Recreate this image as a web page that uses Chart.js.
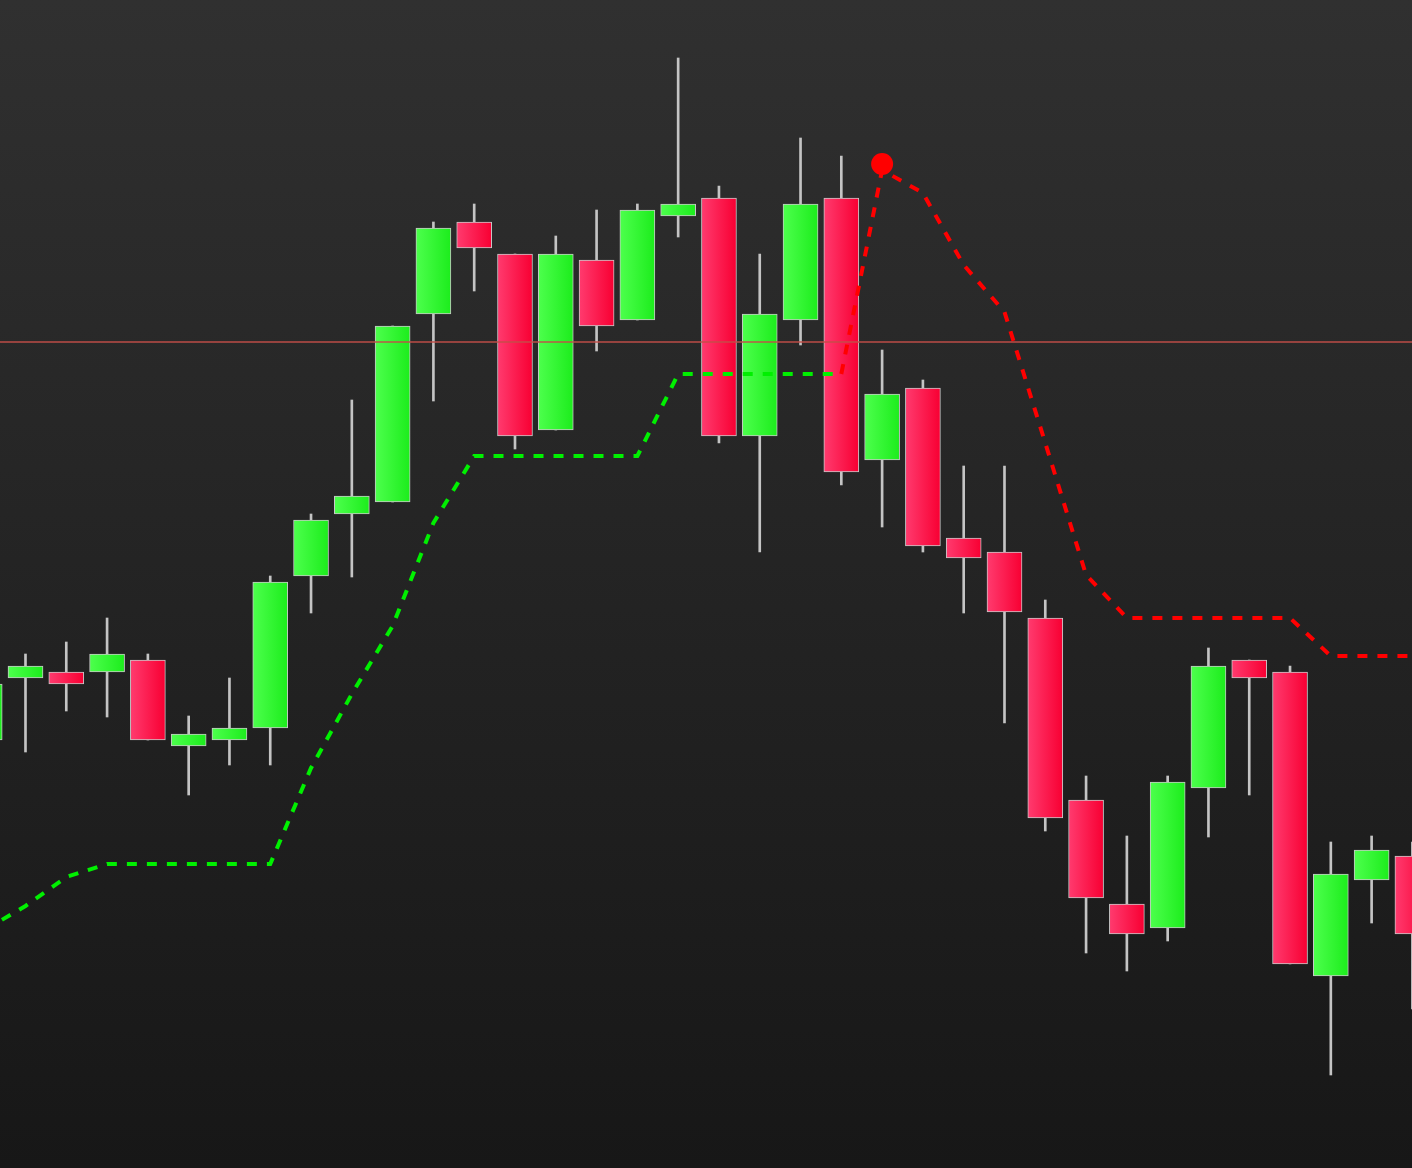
<!DOCTYPE html>
<html>
<head>
<meta charset="utf-8">
<title>Candles</title>
<script src="https://cdn.jsdelivr.net/npm/chart.js@4.4.1/dist/chart.umd.min.js"></script>
<style>
  body { margin: 0; background: #1a1a1a; }
  #wrap { width: 1412px; height: 1168px; }
</style>
</head>
<body>
<div id="wrap"><canvas id="myChart"></canvas></div>
<script>
// candle values, one per bar (index 0 and 35 are cut by the edges)
const opens  = [428, 490, 496, 496, 508, 422, 428, 440, 592, 654, 666, 854, 946, 914, 738, 908, 848, 952, 970, 732, 848, 970, 708, 780, 630, 616, 550, 368, 264, 240, 380, 508, 496, 192, 288, 312];
const highs  = [492, 514, 526, 550, 514, 452, 490, 592, 654, 768, 842, 946, 964, 914, 932, 958, 964, 1110, 982, 914, 1030, 1012, 818, 788, 702, 702, 568, 392, 332, 392, 520, 508, 502, 326, 332, 326];
const lows   = [420, 416, 457, 451, 428, 373, 403, 403, 555, 591, 666, 767, 877, 719, 738, 817, 848, 931, 725, 616, 823, 683, 641, 616, 555, 445, 337, 215, 197, 227, 331, 373, 204, 93, 245, 159];
const closes = [484, 502, 484, 514, 428, 434, 440, 586, 648, 672, 842, 940, 920, 732, 914, 842, 958, 964, 732, 854, 964, 696, 774, 622, 610, 556, 350, 270, 234, 386, 502, 490, 204, 294, 318, 234];

// trailing stop lines (null = not shown)
const upTrend = [238, 262, 291, 304, 304, 304, 304, 304, 400, 474, 542, 645, 712, 712, 712, 712, 712, 794, 794, 794, 794, 794,
  null, null, null, null, null, null, null, null, null, null, null, null, null, null];
const downTrend = [null, null, null, null, null, null, null, null, null, null, null, null, null, null, null, null, null, null, null, null, null,
  794, 998, 975, 903, 856, 725, 593, 550, 550, 550, 550, 550, 512, 512, 512];

const flipIndex = 22;
const flipValue = 1004;
const levelValue = 826;

function toPoints(arr) {
  var pts = [];
  for (var i = 0; i < arr.length; i++) {
    if (arr[i] !== null) pts.push({ x: i, y: arr[i] });
  }
  return pts;
}

var bodies = opens.map(function (o, i) {
  return { x: i, y: [Math.min(o, closes[i]), Math.max(o, closes[i])] };
});
var wicks = highs.map(function (h, i) {
  return { x: i, y: [lows[i], h] };
});

function bodyFill(ctx) {
  var up = closes[ctx.dataIndex] >= opens[ctx.dataIndex];
  var flat = up ? "#33f533" : "#ff1f55";
  if (ctx.type !== "data") return flat;
  var chart = ctx.chart;
  var xs = chart.scales.x;
  if (!xs) return flat;
  var cx = xs.getPixelForValue(ctx.dataIndex);
  if (!isFinite(cx)) return flat;
  var g = chart.ctx.createLinearGradient(cx - 17, 0, cx + 17, 0);
  if (up) {
    g.addColorStop(0, "#4cff4c");
    g.addColorStop(1, "#1ded1d");
  } else {
    g.addColorStop(0, "#ff3a6e");
    g.addColorStop(1, "#f80033");
  }
  return g;
}

const background = {
  id: "background",
  beforeDraw: function (chart) {
    var c = chart.ctx;
    var g = c.createLinearGradient(0, 0, 0, chart.height);
    g.addColorStop(0, "#303030");
    g.addColorStop(1, "#171717");
    c.save();
    c.fillStyle = g;
    c.fillRect(0, 0, chart.width, chart.height);
    c.restore();
  },
};

document.addEventListener("DOMContentLoaded", (event) => {
  var myChart = document.getElementById("myChart").getContext("2d");

  new Chart(myChart, {
    type: "bar",
    data: {
      datasets: [
        {
          type: "line",
          label: "level",
          data: [{ x: 0, y: levelValue }, { x: 36, y: levelValue }],
          borderColor: "rgba(196, 78, 72, 0.95)",
          borderWidth: 1.5,
          pointRadius: 0,
          order: 0,
        },
        {
          type: "line",
          label: "flip",
          data: [{ x: flipIndex, y: flipValue }],
          showLine: false,
          pointRadius: 11,
          pointBackgroundColor: "#ff0000",
          pointBorderWidth: 0,
          order: 0,
        },
        {
          type: "line",
          label: "up",
          data: toPoints(upTrend),
          borderColor: "#00f000",
          borderWidth: 4,
          borderDash: [10, 10],
          tension: 0,
          pointRadius: 0,
          order: 0,
        },
        {
          type: "line",
          label: "down",
          data: toPoints(downTrend),
          borderColor: "#ff0000",
          borderWidth: 4,
          borderDash: [10, 10],
          tension: 0,
          pointRadius: 0,
          order: 0,
        },
        {
          label: "body",
          data: bodies,
          backgroundColor: bodyFill,
          borderColor: "#c8c8c8",
          borderWidth: 1,
          borderSkipped: false,
          barThickness: 35,
          grouped: false,
          order: 1,
        },
        {
          label: "wick",
          data: wicks,
          backgroundColor: "#c4c4c4",
          borderWidth: 0,
          barThickness: 2,
          grouped: false,
          order: 2,
        },
      ],
    },
    options: {
      responsive: true,
      maintainAspectRatio: false,
      animation: false,
      layout: { padding: 0, autoPadding: false },
      plugins: {
        legend: { display: false },
        tooltip: { enabled: false },
      },
      scales: {
        x: { type: "linear", min: 0.375, max: 34.99, offset: false, display: false },
        y: { min: 0, max: 1168, display: false },
      },
    },
    plugins: [background],
  });
});
</script>
</body>
</html>
